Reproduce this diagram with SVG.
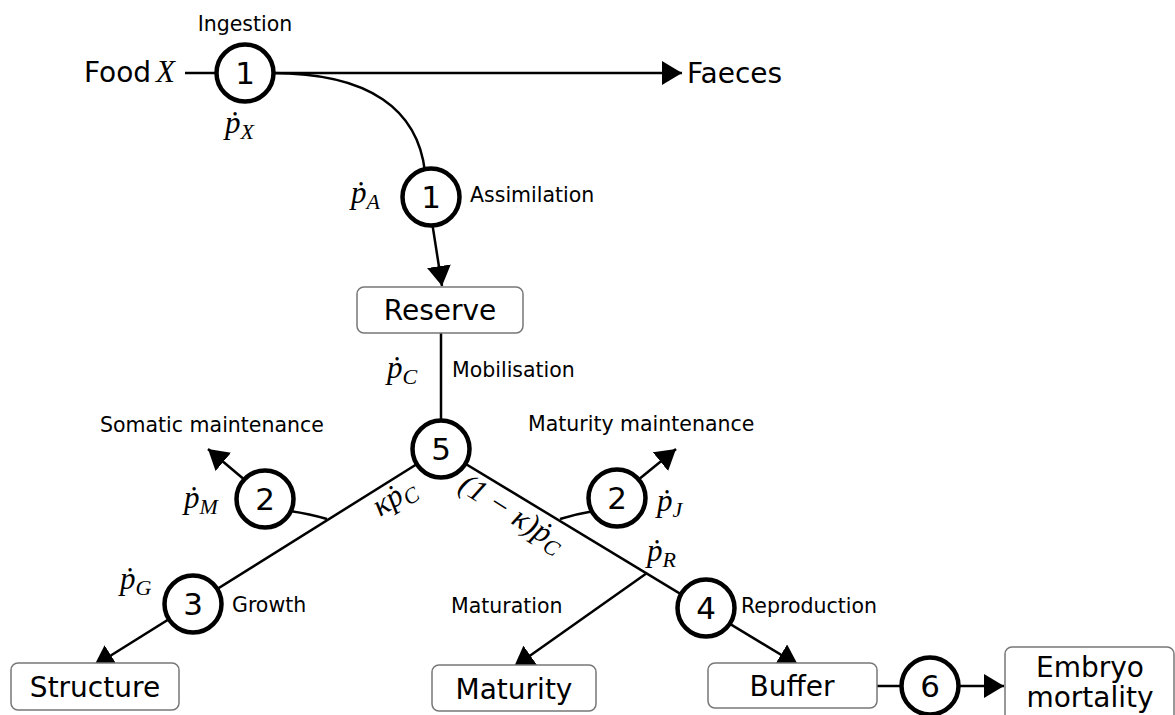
<svg xmlns="http://www.w3.org/2000/svg" width="1175" height="715" viewBox="0 0 1175 715">
<style>
.t{font-family:"DejaVu Sans","Liberation Sans",sans-serif;fill:#000}
.s{font-size:20.5px}
.b{font-size:28px}
.n{font-size:31px;text-anchor:middle}
.m{font-family:"Liberation Serif","DejaVu Serif",serif;font-style:italic;font-size:31px;fill:#000}
.sub{font-size:22px}
.c{fill:#fff;stroke:#000;stroke-width:4.5}
.box{fill:#fff;stroke:#777;stroke-width:1.5}
.ln{fill:none;stroke:#000;stroke-width:2.5}
</style>
<defs>
<marker id="ar" viewBox="0 0 20 24" refX="20" refY="12" markerWidth="20" markerHeight="24" markerUnits="userSpaceOnUse" orient="auto">
<path d="M0,0 L20,12 L0,24 z" fill="#000"/>
</marker>
</defs>
<rect width="1175" height="715" fill="#fff"/>
<g id="connectors">
<path class="ln" d="M185 73 L220 73"/>
<path class="ln" d="M270 73 L682 73" marker-end="url(#ar)"/>
<path class="ln" d="M272 73 C370 73 418 110 425 172"/>
<path class="ln" d="M432 222 L442 286" marker-end="url(#ar)"/>
<path class="ln" d="M441 333 L441 425"/>
<path class="ln" d="M441 449 L94 666" marker-end="url(#ar)"/>
<path class="ln" d="M441 449 L798 665" marker-end="url(#ar)"/>
<path class="ln" d="M327 519 Q310 514 290 511"/>
<path class="ln" d="M246 481 L208 449" marker-end="url(#ar)"/>
<path class="ln" d="M560 519 Q576 514 594 511"/>
<path class="ln" d="M638 480 L676 449" marker-end="url(#ar)"/>
<path class="ln" d="M647 573 L514 667" marker-end="url(#ar)"/>
<path class="ln" d="M877 686 L905 686"/>
<path class="ln" d="M955 686 L1004 686" marker-end="url(#ar)"/>
</g>
<g id="food"><text class="t b" x="84" y="82">Food</text><text class="m" x="156" y="82">X</text></g>
<g id="faeces"><text class="t b" x="687" y="83">Faeces</text></g>
<g id="ingestion">
<circle class="c" cx="245" cy="73" r="28.5"/>
<text class="t n" x="245" y="84">1</text>
<text class="t s" x="245" y="31" text-anchor="middle">Ingestion</text>
<text class="m" x="225" y="133">ṗ<tspan class="sub" dy="6">X</tspan></text>
</g>
<g id="assimilation">
<circle class="c" cx="431" cy="197" r="28.5"/>
<text class="t n" x="431" y="208">1</text>
<text class="t s" x="470" y="202">Assimilation</text>
<text class="m" x="351" y="203">ṗ<tspan class="sub" dy="6">A</tspan></text>
</g>
<g id="reserve">
<rect class="box" x="357" y="287" width="166" height="46" rx="7"/>
<text class="t b" x="440" y="320" text-anchor="middle">Reserve</text>
</g>
<g id="mobilisation">
<text class="m" x="387" y="378">ṗ<tspan class="sub" dy="6">C</tspan></text>
<text class="t s" x="452" y="377">Mobilisation</text>
</g>
<g id="split">
<circle class="c" cx="441" cy="449" r="28.5"/>
<text class="t n" x="441" y="460">5</text>
<text class="m" transform="translate(399 505) rotate(-32)" text-anchor="middle">κṗ<tspan class="sub" dy="6">C</tspan></text>
<text class="m" transform="translate(507 521) rotate(32)" text-anchor="middle">(1 − κ)ṗ<tspan class="sub" dy="6">C</tspan></text>
</g>
<g id="somatic">
<circle class="c" cx="265" cy="499" r="28.5"/>
<text class="t n" x="265" y="510">2</text>
<text class="t s" x="100" y="432">Somatic maintenance</text>
<text class="m" x="184" y="508">ṗ<tspan class="sub" dy="6">M</tspan></text>
</g>
<g id="maturitymaint">
<circle class="c" cx="617" cy="498" r="28.5"/>
<text class="t n" x="617" y="509">2</text>
<text class="t s" x="528" y="431">Maturity maintenance</text>
<text class="m" x="657" y="511">ṗ<tspan class="sub" dy="6">J</tspan></text>
</g>
<g id="growth">
<circle class="c" cx="193" cy="604" r="28.5"/>
<text class="t n" x="193" y="615">3</text>
<text class="t s" x="232" y="612">Growth</text>
<text class="m" x="120" y="589">ṗ<tspan class="sub" dy="6">G</tspan></text>
</g>
<g id="maturation">
<text class="t s" x="451" y="613">Maturation</text>
<text class="m" x="647" y="561">ṗ<tspan class="sub" dy="6">R</tspan></text>
</g>
<g id="reproduction">
<circle class="c" cx="706" cy="608" r="28.5"/>
<text class="t n" x="706" y="619">4</text>
<text class="t s" x="741" y="613">Reproduction</text>
</g>
<g id="structure">
<rect class="box" x="11" y="663" width="168" height="47" rx="7"/>
<text class="t b" x="95" y="697" text-anchor="middle">Structure</text>
</g>
<g id="maturity">
<rect class="box" x="432" y="665" width="164" height="46" rx="7"/>
<text class="t b" x="514" y="699" text-anchor="middle">Maturity</text>
</g>
<g id="buffer">
<rect class="box" x="708" y="663" width="169" height="45" rx="7"/>
<text class="t b" x="792" y="696" text-anchor="middle">Buffer</text>
</g>
<g id="mortality">
<circle class="c" cx="930" cy="686" r="28.5"/>
<text class="t n" x="930" y="697">6</text>
</g>
<g id="embryo">
<rect class="box" x="1005" y="647" width="169" height="80" rx="7"/>
<text class="t b" x="1090" y="677" text-anchor="middle">Embryo</text>
<text class="t b" x="1090" y="707" text-anchor="middle">mortality</text>
</g>
</svg>
